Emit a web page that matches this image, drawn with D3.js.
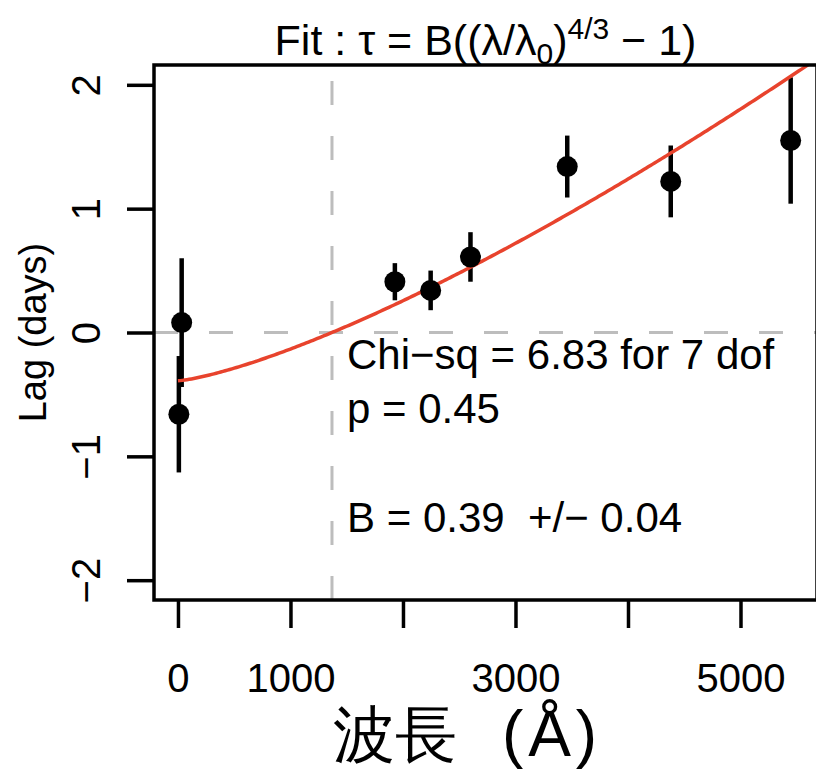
<!DOCTYPE html>
<meta charset="utf-8">
<style>
body { margin: 0; background: #fff; }
text { font-family: "Liberation Sans", Arial, sans-serif; fill: #000; white-space: pre; }
</style>
<body>
<script src="https://d3js.org/d3.v7.min.js"></script>
<script>

// wavelength (Angstrom), lag (days) and 1-sigma errors
var wavelength = [8, 33, 1928, 2246, 2600, 3460, 4380, 5446];
var lag        = [-0.66, 0.08, 0.41, 0.34, 0.61, 1.34, 1.22, 1.55];
var lagErr     = [0.47, 0.52, 0.15, 0.16, 0.20, 0.25, 0.29, 0.51];

// fitted parameters for tau = B((lambda/lambda0)^(4/3) - 1)
var fitB = 0.39;
var lambda0 = 1369;

// axis ticks
var xTicks = [0, 1000, 2000, 3000, 4000, 5000];
var xTickLabels = ["0", "1000", "", "3000", "", "5000"];
var yTicks = [-2, -1, 0, 1, 2];

var statLines = ["Chi\u2212sq = 6.83 for 7 dof", "p = 0.45", "", "B = 0.39  +/\u2212 0.04"];

// plot box (note: "top" is a reserved window property, so use box*)
var W = 816, H = 769;
var boxL = 154, boxR = 817, boxT = 65, boxB = 600;

var x = d3.scaleLinear().domain([-213, 5680]).range([boxL, boxR]);
var y = d3.scaleLinear().domain([-2.16, 2.16]).range([boxB, boxT]);

var svg = d3.select("body").append("svg")
    .attr("width", W)
    .attr("height", H);

svg.append("defs").append("clipPath")
    .attr("id", "plotclip")
  .append("rect")
    .attr("x", boxL).attr("y", boxT)
    .attr("width", boxR - boxL).attr("height", boxB - boxT);

// reference lines at lag 0 and lambda0
svg.append("line")
    .attr("x1", boxL).attr("x2", boxR)
    .attr("y1", y(0)).attr("y2", y(0))
    .attr("stroke", "#bdbdbd")
    .attr("stroke-width", 3)
    .attr("stroke-dasharray", "24,31");

svg.append("line")
    .attr("x1", x(lambda0)).attr("x2", x(lambda0))
    .attr("y1", boxB).attr("y2", boxT)
    .attr("stroke", "#bdbdbd")
    .attr("stroke-width", 3)
    .attr("stroke-dasharray", "24,31");

// error bars
svg.append("g").selectAll("line")
    .data(wavelength)
  .enter().append("line")
    .attr("x1", function(d) { return x(d); })
    .attr("x2", function(d) { return x(d); })
    .attr("y1", function(d, i) { return y(lag[i] - lagErr[i]); })
    .attr("y2", function(d, i) { return y(lag[i] + lagErr[i]); })
    .attr("stroke", "#000")
    .attr("stroke-width", 4.5);

// fit curve
var curveX = d3.range(0, 5700, 20);
var fitLine = d3.line()
    .x(function(d) { return x(d); })
    .y(function(d) { return y(fitB * (Math.pow(d / lambda0, 4 / 3) - 1)); });

svg.append("path")
    .datum(curveX)
    .attr("clip-path", "url(#plotclip)")
    .attr("fill", "none")
    .attr("stroke", "#e8432d")
    .attr("stroke-width", 3.5)
    .attr("d", fitLine);

// points
svg.append("g").selectAll("circle")
    .data(wavelength)
  .enter().append("circle")
    .attr("cx", function(d) { return x(d); })
    .attr("cy", function(d, i) { return y(lag[i]); })
    .attr("r", 10.5)
    .attr("fill", "#000");

// box
svg.append("rect")
    .attr("x", boxL).attr("y", boxT)
    .attr("width", boxR - boxL).attr("height", boxB - boxT)
    .attr("fill", "none")
    .attr("stroke", "#000")
    .attr("stroke-width", 3.5);

// x axis
var xAxis = svg.append("g")
    .attr("transform", "translate(0," + boxB + ")")
    .call(d3.axisBottom(x).tickValues(xTicks).tickSize(28)
      .tickFormat(function(d, i) { return xTickLabels[i]; }));
xAxis.select(".domain").remove();
xAxis.selectAll("line").attr("stroke", "#000").attr("stroke-width", 3.5);
xAxis.selectAll("text")
    .attr("y", 92).attr("dy", null)
    .attr("font-size", 40)
    .attr("font-family", "Liberation Sans");

// y axis, labels rotated like R's default las = 0
var yAxis = svg.append("g")
    .attr("transform", "translate(" + boxL + ",0)")
    .call(d3.axisLeft(y).tickValues(yTicks).tickSize(27).tickFormat(d3.format("d")));
yAxis.select(".domain").remove();
yAxis.selectAll("line").attr("stroke", "#000").attr("stroke-width", 3.5);
yAxis.selectAll("text")
    .attr("x", null).attr("dy", null)
    .attr("text-anchor", "middle")
    .attr("transform", "translate(-54,0) rotate(-90)")
    .attr("font-size", 40)
    .attr("font-family", "Liberation Sans");

// y label
svg.append("text")
    .attr("transform", "translate(46," + (boxT + boxB) / 2 + ") rotate(-90)")
    .attr("text-anchor", "middle")
    .attr("font-size", 38)
    .text("Lag (days)");

// x label
svg.append("text")
    .attr("x", 333).attr("y", 756)
    .attr("font-family", "Noto Sans CJK JP")
    .attr("font-size", 62)
    .text("波長");
svg.append("text")
    .attr("x", 502).attr("y", 756)
    .attr("font-family", "Noto Sans CJK JP")
    .attr("font-size", 64)
    .attr("textLength", 95)
    .attr("lengthAdjust", "spacing")
    .text("(Å)");

// title
var title = svg.append("text")
    .attr("x", (boxL + boxR) / 2).attr("y", 55)
    .attr("text-anchor", "middle")
    .attr("font-size", 43);
title.append("tspan").text("Fit : \u03c4 = B((\u03bb/\u03bb");
title.append("tspan").attr("font-size", 30).attr("dy", 9).text("0");
title.append("tspan").attr("dy", -9).text(")");
title.append("tspan").attr("font-size", 30).attr("dy", -16).text("4/3");
title.append("tspan").attr("dy", 16).text(" \u2212 1)");

// fit statistics
svg.append("g").selectAll("text")
    .data(statLines)
  .enter().append("text")
    .attr("x", 347)
    .attr("y", function(d, i) { return 369 + i * 54.3; })
    .attr("font-size", 42)
    .text(function(d) { return d; });

</script>
</body>
